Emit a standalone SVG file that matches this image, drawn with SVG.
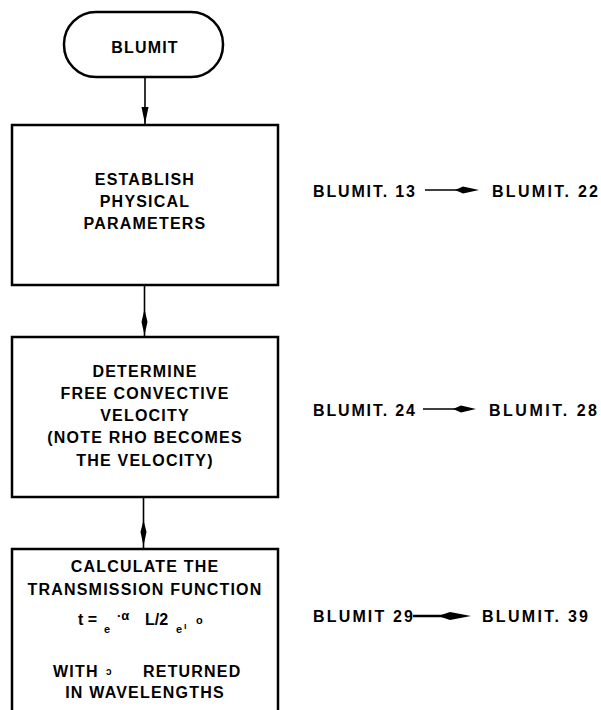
<svg xmlns="http://www.w3.org/2000/svg" width="601" height="710" viewBox="0 0 601 710">
<style>
.box{fill:#fff;stroke:#000;stroke-width:2.5}
.t{font-family:"Liberation Sans",Arial,sans-serif;font-weight:bold;font-size:16px;letter-spacing:1.2px;text-anchor:middle;fill:#000}
.r{font-family:"Liberation Sans",Arial,sans-serif;font-weight:bold;font-size:16px;fill:#000}
.s{font-family:"Liberation Sans",Arial,sans-serif;font-weight:bold;fill:#000}
.ln{stroke:#000;stroke-width:1.6;fill:none}
.hd{fill:#000;stroke:none}
</style>
<rect width="601" height="710" fill="#fff"/>
<g id="connectors">
  <line class="ln" x1="145" y1="77" x2="145" y2="125"/>
  <path class="hd" d="M141.5,107 L148.5,107 L145,124 Z"/>
  <line class="ln" x1="144.5" y1="285" x2="144.5" y2="338"/>
  <path class="hd" d="M144.5,309 L147.5,322 L144.5,335 L141.5,322 Z"/>
  <line class="ln" x1="143.5" y1="497" x2="143.5" y2="549"/>
  <path class="hd" d="M143.5,520 L146.5,532 L143.5,546 L140.5,532 Z"/>
  <line class="ln" x1="425" y1="190" x2="460" y2="190"/>
  <path class="hd" d="M455,190 L463,186.5 L479,190 L463,193.5 Z"/>
  <line class="ln" x1="423" y1="409" x2="458" y2="409"/>
  <path class="hd" d="M453,409 L461,405.5 L476,409 L461,412.5 Z"/>
  <line x1="413" y1="616" x2="445" y2="616" stroke="#000" stroke-width="2.5"/>
  <path class="hd" d="M438,616 L450,612 L471,616 L450,620 Z"/>
</g>
<g id="start">
  <rect class="box" x="64" y="12" width="159" height="65" rx="32" ry="32"/>
  <text class="t" x="145" y="53">BLUMIT</text>
</g>
<g id="establish">
  <rect class="box" x="12" y="125" width="266" height="160"/>
  <text class="t" x="145" y="185">ESTABLISH</text>
  <text class="t" x="145" y="207">PHYSICAL</text>
  <text class="t" x="145" y="229">PARAMETERS</text>
</g>
<g id="determine">
  <rect class="box" x="12" y="337" width="266" height="160"/>
  <text class="t" x="145" y="377">DETERMINE</text>
  <text class="t" x="145" y="399">FREE CONVECTIVE</text>
  <text class="t" x="145" y="421">VELOCITY</text>
  <text class="t" x="145" y="443">(NOTE RHO BECOMES</text>
  <text class="t" x="145" y="466">THE VELOCITY)</text>
</g>
<g id="calculate">
  <rect class="box" x="12" y="549" width="266" height="180"/>
  <text class="t" x="145" y="572">CALCULATE THE</text>
  <text class="t" x="145" y="595">TRANSMISSION FUNCTION</text>
  <text class="s"><tspan x="78" y="625" font-size="16">t =</tspan><tspan x="104" y="633" font-size="11">e</tspan><tspan x="117" y="620" font-size="13">·α</tspan><tspan x="145" y="625" font-size="16">L/2</tspan><tspan x="176" y="633" font-size="11">e</tspan><tspan x="184" y="629" font-size="9">ı</tspan><tspan x="196" y="624" font-size="11">o</tspan></text>
  <text class="s" font-size="16" letter-spacing="1.2"><tspan x="53" y="677">WITH</tspan><tspan x="106" y="675" font-size="10">ɔ</tspan><tspan x="143" y="677">RETURNED</tspan></text>
  <text class="t" x="145" y="698">IN WAVELENGTHS</text>
</g>
<g id="refs">
  <text class="r" x="313" y="197" textLength="102" lengthAdjust="spacing">BLUMIT. 13</text>
  <text class="r" x="492" y="197" textLength="106" lengthAdjust="spacing">BLUMIT. 22</text>
  <text class="r" x="313" y="416" textLength="102" lengthAdjust="spacing">BLUMIT. 24</text>
  <text class="r" x="489" y="416" textLength="108" lengthAdjust="spacing">BLUMIT. 28</text>
  <text class="r" x="313" y="622" textLength="100" lengthAdjust="spacing">BLUMIT  29</text>
  <text class="r" x="482" y="622" textLength="106" lengthAdjust="spacing">BLUMIT. 39</text>
</g>
</svg>
